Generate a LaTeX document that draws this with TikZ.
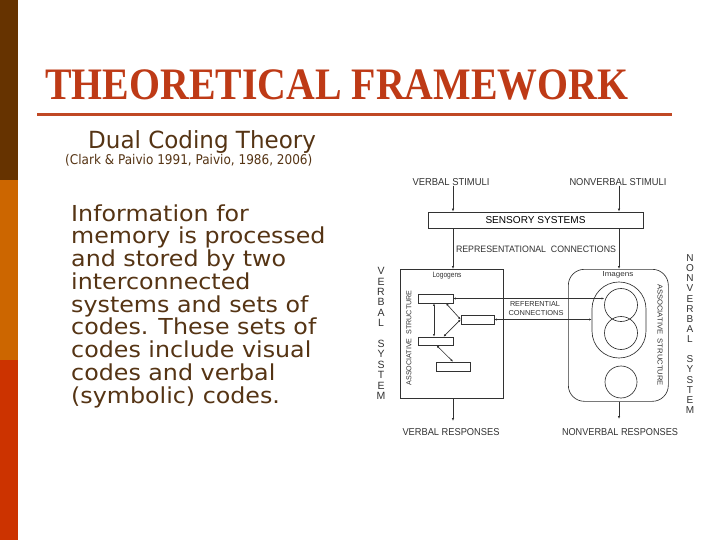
\documentclass[tikz,border=0pt]{standalone}
\usepackage{fontspec}
\usepackage{graphicx}
\setmainfont{Liberation Serif}
\newfontfamily\titlefont[FakeStretch=0.885]{Liberation Serif}
\newfontfamily\bodyfont[FakeStretch=1.08]{DejaVu Sans}
\newfontfamily\headfont[FakeStretch=0.975]{DejaVu Sans}
\newfontfamily\citefont[FakeStretch=0.9]{DejaVu Sans}
\newfontfamily\diagfont{Liberation Sans}
\usetikzlibrary{arrows.meta}
\definecolor{barA}{RGB}{102,51,0}
\definecolor{barB}{RGB}{204,102,0}
\definecolor{barC}{RGB}{204,51,0}
\definecolor{titlecol}{RGB}{190,58,22}
\definecolor{rulecol}{RGB}{192,72,36}
\definecolor{txtcol}{RGB}{85,52,20}
\definecolor{ink}{RGB}{50,50,50}
\newcommand{\fitto}[3]{\resizebox{#1}{#2}{\diagfont #3}}
\begin{document}
\begin{tikzpicture}[x=1pt,y=-1pt,
  lbl/.style={inner sep=0pt, text=ink},
  ln/.style={draw=ink, line width=0.65pt},
  boxed/.style={draw=ink, line width=0.65pt, inner sep=0pt},
  arr/.style={ln, -{Latex[length=3pt,width=2.4pt]}},
  darr/.style={ln, {Latex[length=2.6pt,width=2.2pt]}-{Latex[length=2.6pt,width=2.2pt]}},
  ]
\useasboundingbox (0,0) rectangle (720,540);
\fill[white] (0,0) rectangle (720,540);
% side bars
\fill[barA] (0,0) rectangle (18,180);
\fill[barB] (0,180) rectangle (18,360);
\fill[barC] (0,360) rectangle (18,540);
% title
\node[anchor=base west, inner sep=0pt, text=titlecol, font=\titlefont\bfseries\fontsize{45}{45}\selectfont] (title) at (45,100) {THEORETICAL FRAMEWORK};
\draw[rulecol, line width=3.2pt] (37,114.5) -- (672,114.5);
\node[anchor=base west, inner sep=0pt, text=txtcol, font=\headfont\fontsize{23.6}{23.6}\selectfont] (sub) at (88,148.5) {Dual Coding Theory};
\node[anchor=base west, inner sep=0pt, text=txtcol, font=\citefont\fontsize{13.4}{13.4}\selectfont] (cite) at (65,164.5) {(Clark \& Paivio 1991, Paivio, 1986, 2006)};
% body
\node[anchor=north west, inner sep=0pt, align=left, text=txtcol, font=\bodyfont\fontsize{22}{22.75}\selectfont] (body) at (71,204.3) {Information for\\memory is processed\\and stored by two\\interconnected\\systems and sets of\\codes. These sets of\\codes include visual\\codes and verbal\\(symbolic) codes.};
% ---------- diagram ----------
\coordinate (vx) at (453,0);
\coordinate (nx) at (619,0);
\node[lbl] (vs) at (451,182) {\fitto{77pt}{7pt}{VERBAL STIMULI}};
\node[lbl] (nvs) at (618,182) {\fitto{97pt}{7pt}{NONVERBAL STIMULI}};
\node[boxed, minimum width=215pt, minimum height=16pt] (sens) at (535.5,220) {\fitto{100pt}{7pt}{SENSORY SYSTEMS}};
\draw[arr] (vs.south -| vx) -- (sens.north -| vx);
\draw[arr] (nvs.south -| nx) -- (sens.north -| nx);
\node[lbl] (rep) at (536,249) {\fitto{160pt}{6.5pt}{REPRESENTATIONAL\ \ CONNECTIONS}};
% verbal system
\node[boxed, minimum width=103pt, minimum height=129pt, anchor=north west] (vbox) at (400,269) {};
\node[lbl] (logo) at (447,276) {\fitto{29pt}{5.3pt}{Logogens}};
\node[lbl, rotate=90] (vas) at (409,338) {\fitto{95pt}{5pt}{ASSOCIATIVE\ \ STRUCTURE}};
\node[boxed, minimum width=35pt, minimum height=9pt] (r1) at (435.5,298.5) {};
\node[boxed, minimum width=33pt, minimum height=9pt] (r2) at (477.5,319.5) {};
\node[boxed, minimum width=35pt, minimum height=8pt] (r3) at (435.5,341) {};
\node[boxed, minimum width=34pt, minimum height=9pt] (r4) at (453,366.5) {};
\draw[darr] ([xshift=-1.5pt]r1.south) -- ([xshift=-1.5pt]r3.north);
\draw[darr] ([xshift=10.5pt]r1.south) -- (r2.west);
\draw[darr] ([xshift=8pt]r3.north) -- (r2.west);
\draw[darr] ([xshift=1pt]r3.south) -- (r4.north);
% nonverbal system
\node[boxed, rounded corners=16pt, minimum width=100pt, minimum height=132pt, anchor=north west] (nvbox) at (568,269) {};
\node[lbl] (imag) at (618,275) {\fitto{31pt}{5pt}{Imagens}};
\node[boxed, rounded corners=26.9pt, minimum width=54pt, minimum height=76pt] (ov) at (619,320) {};
\node[boxed, circle, minimum size=33pt] (c1) at (621,305) {};
\node[boxed, circle, minimum size=33pt] (c2) at (621,333) {};
\node[boxed, circle, minimum size=32pt] (c3) at (621,382) {};
\node[lbl, rotate=-90] (nas) at (660,335) {\fitto{102pt}{5pt}{ASSOCIATIVE\ \ STRUCTURE}};
\draw[arr] (sens.south -| vx) -- (vbox.north -| vx);
\draw[arr] (sens.south -| nx) -- (nvbox.north -| nx);
% referential connections
\draw[darr] (r1.east) -- (r1.east -| c1.west);
\draw[darr] (r2.east) -- (r2.east -| ov.west);
\node[lbl] (ref1) at (535,304) {\fitto{50pt}{5pt}{REFERENTIAL}};
\node[lbl] (ref2) at (536,313) {\fitto{55pt}{5pt}{CONNECTIONS}};
% responses
\node[lbl] (vresp) at (451,432) {\fitto{97pt}{7pt}{VERBAL RESPONSES}};
\node[lbl] (nresp) at (620,432) {\fitto{116pt}{7pt}{NONVERBAL RESPONSES}};
\coordinate (vend) at (453,421);
\coordinate (nend) at (619,419);
\draw[arr] (vbox.south -| vx) -- (vend);
\draw[arr] (nvbox.south -| nx) -- (nend);
% side labels
\node[anchor=north, inner sep=0pt, align=center, text=ink, font=\diagfont\fontsize{10.5}{10.4}\selectfont] (vsys) at (381,267.3) {V\\E\\R\\B\\A\\L\\[10.4pt]S\\Y\\S\\T\\E\\M};
\node[anchor=north, inner sep=0pt, align=center, text=ink, font=\diagfont\fontsize{10}{10.13}\selectfont] (nsys) at (690,254.4) {N\\O\\N\\V\\E\\R\\B\\A\\L\\[10.13pt]S\\Y\\S\\T\\E\\M};
\end{tikzpicture}
\end{document}
